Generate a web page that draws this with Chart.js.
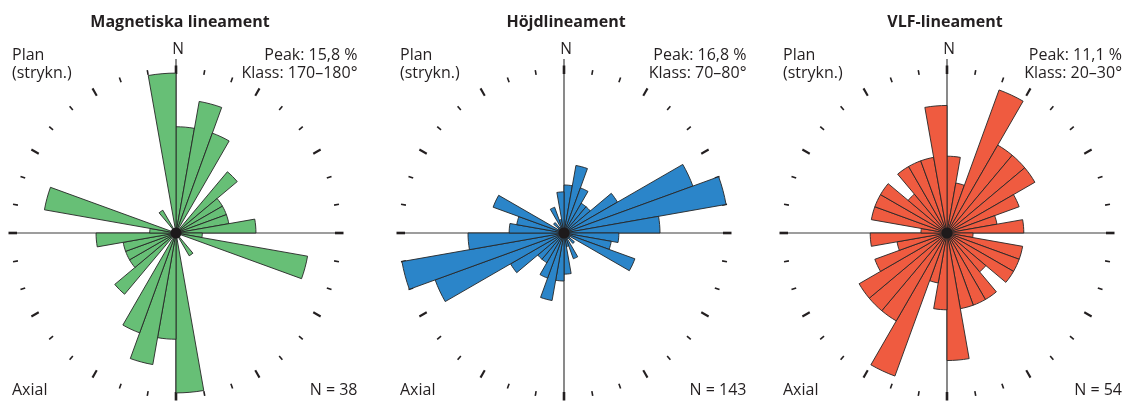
<!DOCTYPE html>
<html lang="sv">
<head>
<meta charset="utf-8">
<title>Lineament – rosdiagram</title>
<script src="https://cdn.jsdelivr.net/npm/chart.js@4.4.1/dist/chart.umd.min.js"></script>
<style>
  html, body { margin: 0; padding: 0; background: #fff; overflow: hidden; }
  #wrap { position: relative; width: 1129px; height: 402px; }
  canvas { position: absolute; top: 0; }
</style>
</head>
<body>
<div id="wrap">
  <canvas id="c1" width="376" height="402" style="left:0px"></canvas>
  <canvas id="c2" width="376" height="402" style="left:376px"></canvas>
  <canvas id="c3" width="377" height="402" style="left:752px"></canvas>
</div>
<script>
// Strike classes (10° bins, 0–180°); axial data, so each class is also drawn at +180°.
const classLabels = ['0–10°', '10–20°', '20–30°', '30–40°', '40–50°', '50–60°',
  '60–70°', '70–80°', '80–90°', '90–100°', '100–110°', '110–120°',
  '120–130°', '130–140°', '140–150°', '150–160°', '160–170°', '170–180°'];

// Share of lineaments per class (%)
const magnetiska = [10.5, 13.2, 10.5, 0, 7.9, 5.3, 5.3, 5.3, 7.9, 2.6, 13.2, 0, 0, 0, 2.6, 0, 0, 15.8];
const hojd       = [4.9, 7.0, 4.9, 3.5, 3.5, 6.3, 14.0, 16.8, 9.8, 5.6, 4.9, 7.7, 0.7, 1.4, 0.7, 2.8, 1.4, 4.2];
const vlf        = [5.6, 3.7, 11.1, 7.4, 7.4, 7.4, 5.6, 3.7, 5.6, 1.9, 5.6, 5.6, 5.6, 3.7, 5.6, 5.6, 5.6, 9.3];

const titles    = ['Magnetiska lineament', 'Höjdlineament', 'VLF-lineament'];
const peakTexts = ['Peak: 15,8 %', 'Peak: 16,8 %', 'Peak: 11,1 %'];
const klassTexts = ['Klass: 170–180°', 'Klass: 70–80°', 'Klass: 20–30°'];
const countTexts = ['N = 38', 'N = 143', 'N = 54'];
const fills = ['#67bf76', '#2b85c9', '#ef5b40'];
// radial scale maximum for each rose
const scaleMax = [16.6, 17.15, 12.25];

const INK = '#231f20';
const FONT = '"Open Sans", "Noto Sans", sans-serif';

// Axis cross, compass ticks, hub and the labels around each rose
const roseFrame = {
  id: 'roseFrame',
  beforeDatasetsDraw(chart, args, o) {
    const s = chart.scales.r;
    const cx = s.xCenter, cy = s.yCenter;
    const ctx = chart.ctx;
    ctx.save();
    ctx.strokeStyle = '#3c3c3c';
    ctx.lineWidth = 1.2;
    ctx.beginPath();
    ctx.moveTo(cx, cy - 174); ctx.lineTo(cx, cy + 166);
    ctx.moveTo(cx - 166, cy); ctx.lineTo(cx + 167, cy);
    ctx.stroke();
    ctx.strokeStyle = INK;
    ctx.lineCap = 'butt';
    for (let b = 0; b < 360; b += 10) {
      const a = b * Math.PI / 180;
      let r0 = 160.5, r1 = 165.5, w = 1.6;
      if (b % 90 === 0) { r0 = 159; r1 = 167.5; w = 2.6; }
      else if (b % 30 === 0) { r0 = 158.5; r1 = 167; w = 2.1; }
      ctx.lineWidth = w;
      ctx.beginPath();
      ctx.moveTo(cx + r0 * Math.sin(a), cy - r0 * Math.cos(a));
      ctx.lineTo(cx + r1 * Math.sin(a), cy - r1 * Math.cos(a));
      ctx.stroke();
    }
    ctx.restore();
  },
  afterDatasetsDraw(chart) {
    const s = chart.scales.r;
    const ctx = chart.ctx;
    ctx.save();
    ctx.fillStyle = '#1e1a1b';
    ctx.beginPath();
    ctx.arc(s.xCenter, s.yCenter, 5.5, 0, Math.PI * 2);
    ctx.fill();
    ctx.restore();
  },
  afterDraw(chart, args, o) {
    const s = chart.scales.r;
    const cx = s.xCenter;
    const ctx = chart.ctx;
    ctx.save();
    ctx.fillStyle = INK;
    ctx.textBaseline = 'alphabetic';
    ctx.font = 'bold 16px ' + FONT;
    ctx.textAlign = 'center';
    ctx.fillText(o.title, cx + o.titleShift, 27);
    ctx.font = '15.5px ' + FONT;
    ctx.fillText('N', cx + 2, 53.5);
    ctx.font = '16px ' + FONT;
    ctx.textAlign = 'left';
    ctx.fillText('Plan', cx - 164, 60);
    ctx.fillText('(strykn.)', cx - 164, 77.5);
    ctx.fillText('Axial', cx - 164, 395);
    ctx.textAlign = 'right';
    ctx.fillText(o.peak, cx + o.right, 60);
    ctx.fillText(o.klass, cx + o.right, 77.5);
    ctx.fillText(o.count, cx + o.right, 395);
    ctx.restore();
  }
};

const layouts = [
  { id: 'c1', padLeft: 8,  padRight: 32, right: 181.5, titleShift: 4 },
  { id: 'c2', padLeft: 20, padRight: 20, right: 182.5, titleShift: 2 },
  { id: 'c3', padLeft: 27, padRight: 14, right: 175,   titleShift: -2 }
];
const series = [magnetiska, hojd, vlf];

layouts.forEach((L, i) => {
  const vals = series[i];
  new Chart(document.getElementById(L.id), {
    type: 'polarArea',
    data: {
      labels: classLabels.concat(classLabels),
      datasets: [{
        data: vals.concat(vals),
        backgroundColor: fills[i],
        borderColor: '#262626',
        borderWidth: 0.9
      }]
    },
    options: {
      responsive: false,
      animation: false,
      layout: { padding: { left: L.padLeft, right: L.padRight, top: 65, bottom: 1 } },
      scales: {
        r: {
          display: false,
          min: 0,
          max: scaleMax[i],
          startAngle: 0
        }
      },
      plugins: {
        legend: { display: false },
        tooltip: { enabled: false },
        roseFrame: {
          title: titles[i],
          titleShift: L.titleShift,
          peak: peakTexts[i],
          klass: klassTexts[i],
          count: countTexts[i],
          right: L.right
        }
      }
    },
    plugins: [roseFrame]
  });
});
</script>
</body>
</html>
